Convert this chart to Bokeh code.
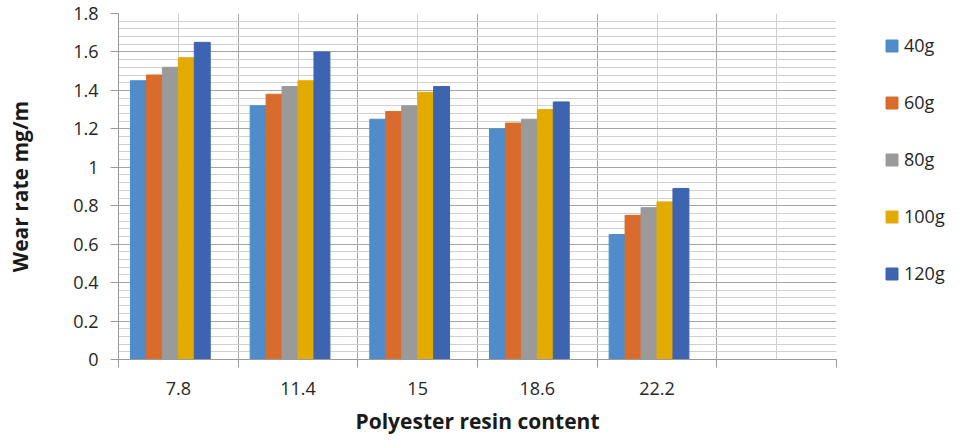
from bokeh.plotting import figure
from bokeh.models import ColumnDataSource, Range1d, FixedTicker
from bokeh.embed import file_html
from bokeh.resources import INLINE

# polyester resin content (x categories), last slot is empty in the original
categories = ["7.8", "11.4", "15", "18.6", "22.2", ""]
loads = ["40g", "60g", "80g", "100g", "120g"]

wear_40g = [1.45, 1.32, 1.25, 1.20, 0.65]
wear_60g = [1.48, 1.38, 1.29, 1.23, 0.75]
wear_80g = [1.52, 1.42, 1.32, 1.25, 0.79]
wear_100g = [1.57, 1.45, 1.39, 1.30, 0.82]
wear_120g = [1.65, 1.60, 1.42, 1.34, 0.89]

y_ticks = [0, 0.2, 0.4, 0.6, 0.8, 1.0, 1.2, 1.4, 1.6, 1.8]

colors = ["#4f8cc9", "#d96c2c", "#9a9a9a", "#e3aa00", "#3d64b0"]
series = [wear_40g, wear_60g, wear_80g, wear_100g, wear_120g]

FONT = "Open Sans"

p = figure(frame_width=718, frame_height=346, output_backend="svg", toolbar_location=None,
           x_range=Range1d(0, len(categories)), y_range=Range1d(0, 1.8),
           min_border_left=118, min_border_right=115, min_border_top=13,
           min_border_bottom=73)
p.outline_line_color = None

# excel-like clustering: 6 slots per category (one empty series), 10% gap each side
gap = 0.1
slot = (1 - 2 * gap) / 6
for k, (name, vals) in enumerate(zip(loads, series)):
    xs = [i + gap + slot * (k + 0.5) for i in range(len(vals))]
    src = ColumnDataSource(dict(x=xs, top=vals))
    p.vbar(x="x", top="top", width=slot, bottom=0, source=src,
           fill_color=colors[k], line_color=colors[k], legend_label=name)

# x axis: labels at category centres, tick marks at boundaries
centres = [i + 0.5 for i in range(len(categories))]
bounds = list(range(len(categories) + 1))
p.xaxis.ticker = FixedTicker(ticks=centres, minor_ticks=bounds)
p.xaxis.major_label_overrides = {c: lab for c, lab in zip(centres, categories)}
p.xaxis.major_tick_line_color = None
p.xaxis.minor_tick_in = 0
p.xaxis.minor_tick_out = 8
p.xaxis.minor_tick_line_color = "#999999"
p.xaxis.axis_line_color = "#999999"
p.xgrid.grid_line_color = "#cfcfcf"
p.xgrid.minor_grid_line_color = "#a6a6a6"

# y axis
minor = [round(i * 0.04, 2) for i in range(46)]
p.yaxis.ticker = FixedTicker(ticks=y_ticks, minor_ticks=minor)
p.yaxis.major_label_overrides = {t: "{:g}".format(t) for t in y_ticks}
p.yaxis.major_tick_in = 0
p.yaxis.major_tick_out = 8
p.yaxis.major_tick_line_color = "#999999"
p.yaxis.minor_tick_line_color = None
p.yaxis.axis_line_color = "#999999"
p.ygrid.grid_line_color = "#a6a6a6"
p.ygrid.minor_grid_line_color = "#d0d0d0"

for ax in (p.xaxis[0], p.yaxis[0]):
    ax.major_label_text_font = FONT
    ax.major_label_text_font_size = "18px"
    ax.major_label_text_color = "#262626"
    ax.axis_label_text_font = FONT
    ax.axis_label_text_font_size = "21px"
    ax.axis_label_text_font_style = "bold"
    ax.axis_label_text_color = "#1a1a1a"

p.xaxis.axis_label = "Polyester resin content"
p.yaxis.axis_label = "Wear rate mg/m"
p.xaxis.major_label_standoff = 14
p.xaxis.axis_label_standoff = 9
p.yaxis.major_label_standoff = 12
p.yaxis.axis_label_standoff = 36

leg = p.legend[0]
leg.border_line_color = None
leg.background_fill_alpha = 0
leg.label_text_font = FONT
leg.label_text_font_size = "18px"
leg.label_text_color = "#262626"
leg.glyph_width = 15
leg.glyph_height = 15
leg.label_height = 20
leg.spacing = 33
leg.label_standoff = 5
leg.padding = 0
leg.margin = 0
leg.location = (48, 74)
p.add_layout(leg, "right")

open("out.html", "w").write(file_html(p, INLINE))
